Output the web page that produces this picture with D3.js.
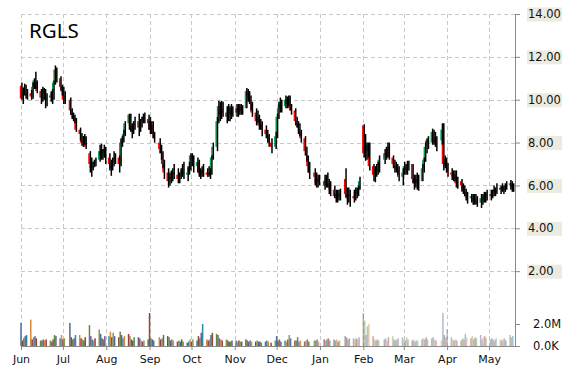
<!DOCTYPE html>
<html><head><meta charset="utf-8">
<script src="https://cdn.jsdelivr.net/npm/d3@7"></script>
<style>body{margin:0;background:#fff}svg{display:block}</style>
</head><body><svg id="c" width="570" height="370"></svg>
<script>
const ticker = "RGLS";
const firstDay = "2015-06-01", lastDay = "2016-05-18";
const holidays = ["2015-07-03","2015-09-07","2015-11-26","2015-12-25","2016-01-01","2016-01-18","2016-02-15","2016-03-25"];

const open = [
10.65,10.1,10.4,10.6,10.2,10.3,10.15,10.6,10.9,10.8,10.4,10.1,10.3,10.5,10.0,10.2,10.1,10.3,10.8,11.4,11.0,10.6,
10.5,10.0,10.0,9.5,9.3,9.2,9.1,8.6,8.4,8.0,8.1,8.3,7.5,7.0,6.8,7.0,7.1,7.2,7.6,7.4,7.5,7.7,
7.3,7.0,6.8,7.1,7.2,7.3,7.0,8.0,8.1,8.4,8.9,9.3,8.8,8.5,8.8,9.0,8.7,8.9,9.0,9.2,9.1,
9.0,8.6,8.8,8.4,8.0,7.7,7.5,7.0,6.6,6.2,6.4,6.3,6.6,6.5,6.3,6.4,6.6,6.7,6.5,6.6,6.8,
7.4,7.2,6.9,7.1,6.6,6.5,6.7,6.6,6.5,6.6,6.5,7.3,7.8,9.0,9.7,9.3,9.6,9.4,9.2,9.5,9.3,9.6,
9.4,9.6,9.4,9.7,9.5,9.6,10.4,10.2,10.0,9.8,9.4,9.0,9.2,8.8,8.9,8.6,8.4,8.3,8.0,7.8,
8.3,9.2,9.6,9.8,9.7,10.0,9.8,10.1,9.6,9.5,9.0,8.9,8.7,8.5,8.2,7.6,7.4,6.9,6.6,6.4,6.1,6.3,
6.2,6.0,6.3,6.1,5.9,5.8,5.5,5.6,5.4,5.6,6.3,5.6,5.4,5.6,5.5,5.4,5.7,5.6,5.8,
8.8,7.5,7.8,7.6,7.9,6.9,6.5,6.6,6.8,6.7,7.2,7.5,7.4,7.8,7.3,7.0,6.9,6.8,6.7,6.4,
6.6,6.9,6.7,6.9,7.0,6.3,6.1,6.3,6.1,6.2,6.8,7.2,7.8,8.1,8.0,8.5,8.2,8.0,8.1,8.6,7.0,7.2,
6.9,6.6,6.5,6.4,6.5,6.1,6.2,6.0,5.8,5.7,5.5,5.4,5.5,5.3,5.4,5.3,5.2,5.4,5.3,5.5,5.4,
5.6,5.5,5.6,5.8,5.7,5.9,5.8,5.9,5.8,5.9,6.0,6.1,5.9];
const high = [
10.8,10.55,10.75,10.7,10.5,10.45,10.8,11.0,11.3,10.9,10.5,10.6,10.55,10.5,10.3,10.4,10.5,10.9,11.6,11.5,11.1,10.7,
10.6,10.4,10.1,9.6,9.4,9.3,9.15,8.7,8.45,8.3,8.4,8.3,7.6,7.3,7.1,7.2,7.3,7.9,7.95,7.7,7.9,7.8,
7.5,7.2,7.3,7.6,7.5,7.4,8.2,8.3,8.6,9.0,9.35,9.35,8.9,9.0,9.2,9.35,9.1,9.2,9.35,9.4,9.3,
9.2,9.0,9.0,8.5,8.2,7.9,7.6,7.2,6.8,6.6,6.7,6.8,7.0,6.8,6.6,6.8,7.0,7.1,6.9,7.1,7.5,
7.5,7.4,7.3,7.2,6.8,6.9,7.0,6.8,6.9,6.8,7.4,8.0,9.2,9.95,9.9,9.95,9.9,9.7,9.8,9.7,9.8,9.7,
9.8,9.8,9.8,9.8,9.75,10.55,10.5,10.4,10.2,9.9,9.6,9.5,9.3,9.1,9.0,8.8,8.6,8.4,8.2,8.5,
9.35,9.9,10.1,10.0,10.2,10.15,10.2,10.2,9.8,9.6,9.2,9.0,8.9,8.6,8.3,7.8,7.4,7.1,6.8,6.6,6.5,6.5,
6.5,6.5,6.6,6.3,6.2,6.0,5.8,5.8,5.8,5.85,6.8,5.9,5.9,5.8,5.8,5.9,5.9,6.0,6.4,
8.85,8.4,8.0,8.0,8.0,7.0,6.9,7.0,7.1,7.4,7.7,7.8,8.0,8.0,7.4,7.2,7.1,7.0,6.9,6.8,
7.1,7.0,7.15,7.15,7.0,6.5,6.5,6.6,6.5,7.0,7.3,8.0,8.2,8.3,8.65,8.6,8.5,8.3,8.9,8.9,7.4,7.3,
7.05,6.8,6.7,6.7,6.7,6.4,6.3,6.1,6.0,5.85,5.7,5.6,5.6,5.6,5.6,5.5,5.6,5.6,5.7,5.7,5.8,
5.8,5.8,6.0,5.9,6.1,6.0,6.1,6.0,6.1,6.2,6.25,6.2,6.1];
const low = [
10.0,9.8,10.2,10.05,10.0,10.0,10.05,10.5,10.5,10.3,9.8,9.9,10.0,9.6,9.7,9.9,9.8,10.0,10.7,10.8,10.4,10.2,
9.8,9.8,9.3,9.1,9.0,8.9,8.5,8.1,7.85,7.8,7.9,7.7,6.6,6.4,6.7,6.85,6.9,7.1,7.2,7.2,7.3,7.0,
6.7,6.45,6.7,6.9,7.0,6.6,6.9,7.8,8.0,8.3,8.6,8.5,8.2,8.4,8.6,8.3,8.5,8.7,8.9,8.9,8.6,
8.4,8.4,8.2,8.0,7.5,7.2,6.8,6.3,5.9,6.0,6.1,6.2,6.3,6.1,6.1,6.3,6.4,6.3,6.2,6.5,6.7,
6.9,6.6,6.6,6.4,6.3,6.4,6.4,6.4,6.4,6.3,6.5,7.2,7.6,8.9,9.0,9.1,9.2,8.9,9.0,9.0,9.1,9.2,
9.2,9.2,9.3,9.3,9.3,9.6,9.9,9.8,9.5,9.2,8.8,8.9,8.6,8.6,8.3,8.2,8.0,7.8,7.5,7.7,
8.2,9.1,9.4,9.4,9.6,9.6,9.7,9.5,9.3,8.8,8.7,8.4,8.3,8.0,7.4,7.1,6.6,6.3,6.0,5.9,5.9,6.0,
5.8,5.9,5.9,5.6,5.5,5.4,5.2,5.2,5.3,5.3,5.45,5.1,5.2,5.0,5.2,5.3,5.4,5.5,5.8,
7.3,7.15,7.2,7.3,6.7,6.2,6.15,6.4,6.5,6.6,7.0,7.2,7.3,7.2,6.8,6.6,6.6,6.5,6.2,6.0,
6.5,6.5,6.5,6.7,6.1,5.8,5.9,5.8,5.75,6.2,6.6,7.1,7.5,7.7,7.9,7.9,7.8,7.6,7.9,6.7,6.8,6.6,
6.4,6.25,6.2,6.2,5.9,5.85,5.7,5.6,5.5,5.3,5.15,5.2,5.1,5.1,5.1,5.0,4.95,5.1,5.2,5.2,5.3,
5.3,5.4,5.5,5.5,5.6,5.6,5.7,5.6,5.7,5.8,5.8,5.7,5.7];
const close = [
10.05,10.4,10.6,10.2,10.3,10.15,10.6,10.9,10.8,10.4,10.1,10.3,10.5,10.0,10.2,10.1,10.3,10.8,11.4,11.0,10.6,10.5,
10.0,10.2,9.5,9.3,9.2,9.1,8.6,8.4,8.0,8.1,8.3,7.8,7.0,6.8,7.0,7.1,7.2,7.6,7.4,7.5,7.7,7.3,
7.0,6.8,7.1,7.2,7.3,7.0,8.0,8.1,8.4,8.9,9.3,8.8,8.5,8.8,9.0,8.7,8.9,9.0,9.2,9.1,8.9,
8.6,8.8,8.4,8.2,7.7,7.5,7.0,6.6,6.2,6.4,6.3,6.6,6.5,6.3,6.4,6.6,6.7,6.5,6.6,6.8,7.4,
7.2,6.9,7.1,6.6,6.5,6.7,6.6,6.5,6.6,6.5,7.3,7.8,9.0,9.7,9.3,9.6,9.4,9.2,9.5,9.3,9.6,9.4,
9.6,9.4,9.7,9.5,9.6,10.4,10.2,10.0,9.8,9.4,9.0,9.2,8.8,8.9,8.6,8.4,8.3,8.0,7.8,8.3,
9.2,9.6,9.8,9.7,10.0,9.8,10.1,9.6,9.5,9.0,8.9,8.7,8.5,8.2,7.6,7.4,6.9,6.6,6.4,6.1,6.3,6.2,
6.0,6.3,6.1,5.9,5.8,5.5,5.6,5.4,5.6,5.5,5.6,5.4,5.6,5.5,5.4,5.7,5.6,5.8,6.2,
7.5,7.8,7.6,7.9,6.9,6.5,6.6,6.8,6.7,7.2,7.5,7.4,7.8,7.3,7.0,6.9,6.8,6.7,6.4,6.6,
6.9,6.7,6.9,7.0,6.3,6.1,6.3,6.1,6.2,6.8,7.2,7.8,8.1,8.0,8.5,8.2,8.0,8.1,8.6,7.0,7.2,6.9,
6.6,6.5,6.4,6.5,6.1,6.2,6.0,5.8,5.7,5.5,5.4,5.5,5.3,5.4,5.3,5.2,5.4,5.3,5.5,5.4,5.6,
5.5,5.6,5.8,5.7,5.9,5.8,5.9,5.8,5.9,6.0,6.1,5.9,6.0];
// volume in millions of shares
const volume = [
2.1,0.5,0.7,0.9,1.0,2.4,0.6,0.8,0.9,0.7,0.5,0.5,0.6,0.5,0.6,0.5,0.4,0.6,1.0,0.9,0.7,1.0,
0.6,0.7,2.1,0.8,0.6,0.7,1.0,1.0,0.7,0.6,0.5,0.8,1.9,0.9,0.6,0.5,0.7,1.5,1.1,0.7,0.6,0.9,
0.9,1.3,0.8,1.2,0.9,0.8,1.3,1.0,0.7,0.9,1.1,0.9,0.6,0.5,0.8,0.8,0.7,0.5,0.4,0.5,0.6,
3.0,0.7,0.6,0.5,0.8,0.6,0.7,1.0,0.9,0.8,0.5,0.6,0.5,0.4,0.5,0.4,0.6,0.4,0.3,0.4,0.6,
0.4,0.6,0.5,0.9,0.7,1.2,2.0,0.6,0.5,0.6,1.0,1.2,1.1,1.0,0.7,0.6,0.5,0.6,0.5,0.4,0.4,0.5,
0.5,0.4,0.5,0.4,0.4,0.6,0.5,0.4,0.5,0.4,0.4,0.5,0.4,0.4,0.3,0.4,0.5,0.4,0.3,0.5,
0.9,0.5,0.6,0.4,0.5,0.4,0.6,1.0,0.7,0.5,0.5,0.8,0.4,0.5,0.4,0.5,0.6,0.4,0.5,0.5,0.6,0.4,
0.6,0.5,0.6,0.7,0.5,0.6,0.5,0.6,0.4,0.5,0.9,0.8,0.6,0.7,0.7,0.6,0.7,0.6,0.8,
3.0,2.3,1.0,1.8,2.0,0.9,0.6,0.5,0.6,0.5,0.6,0.7,0.5,0.8,0.9,0.6,0.5,0.6,0.7,0.8,
0.6,0.5,0.8,0.6,0.5,0.6,0.4,0.5,0.5,0.6,0.7,0.6,0.8,0.6,0.7,0.8,0.6,0.5,0.5,3.0,1.0,0.8,
1.5,0.8,0.6,0.5,0.6,0.5,0.5,0.7,0.6,1.1,0.8,0.7,0.9,0.6,0.8,0.7,1.0,0.6,0.8,0.9,0.7,
0.6,0.7,0.6,0.5,0.7,0.6,0.5,0.6,0.7,0.5,1.0,0.8,0.9];

const priceTicks = [2,4,6,8,10,12,14];
const volumeTicks = [0,2];
const volumeTickLabels = ["0.0K","2.0M"];
const monthLabels = ["Jun","Jul","Aug","Sep","Oct","Nov","Dec","Jan","Feb","Mar","Apr","May"];

const fmtDay = d3.timeFormat("%Y-%m-%d");
const parse = d3.timeParse("%Y-%m-%d");
const hol = new Set(holidays);
const days = d3.timeDays(parse(firstDay), d3.timeDay.offset(parse(lastDay), 1))
  .filter(d => d.getDay() !== 0 && d.getDay() !== 6 && !hol.has(fmtDay(d)));
const data = days.map((d, i) => ({date: d, o: open[i], h: high[i], l: low[i], c: close[i], v: volume[i]}))
  .filter(d => d.o !== undefined);

const svg = d3.select("#c");
const L = 21, R = 515, T = 14, B = 346;
const x = d3.scaleTime().domain([new Date(2015,5,1), new Date(2016,4,19,14)]).range([L, R]);
const y = d3.scaleLinear().domain([0, 14]).range([314, T]);
const yv = d3.scaleLinear().domain([0, 2]).range([B, 324]);
const months = d3.timeMonth.range(new Date(2015,5,1), new Date(2016,4,19));

// grid
const grid = svg.append("g").attr("stroke", "#c8c8c8").attr("stroke-dasharray", "4,3").attr("shape-rendering", "crispEdges");
grid.selectAll("line.h").data(priceTicks).join("line")
  .attr("x1", L).attr("x2", R).attr("y1", d => Math.round(y(d)) + 0.5).attr("y2", d => Math.round(y(d)) + 0.5);
grid.selectAll("line.v").data(months).join("line")
  .attr("x1", d => Math.round(x(d)) + 0.5).attr("x2", d => Math.round(x(d)) + 0.5).attr("y1", T).attr("y2", B);

// volume
const palette = ["#4a6c9e","#8e4a30","#5e8c3c","#6e5a94","#2d88a6","#d58a3e","#a03a3a","#8a9a4a"];
const fade = d3.scaleLinear().domain([new Date(2015,11,1), new Date(2016,1,1)]).range([1, 0.45]).clamp(true);
svg.append("g").selectAll("rect").data(data).join("rect")
  .attr("x", d => x(d.date) - 0.75).attr("width", 1.5)
  .attr("y", d => yv(d.v)).attr("height", d => B - yv(d.v))
  .attr("fill", (d, i) => palette[i % palette.length])
  .attr("fill-opacity", d => fade(d.date));

// candles: coloured body on the left, black high-low bar on the right
const cg = svg.append("g");
cg.selectAll("rect.body").data(data).join("rect").attr("class", "body")
  .attr("x", d => x(d.date) - 1.2).attr("width", 1.5)
  .attr("y", d => y(Math.max(d.o, d.c)))
  .attr("height", d => Math.max(1, Math.abs(y(d.o) - y(d.c))))
  .attr("fill", d => d.c >= d.o ? "#00a651" : "#ff0000");
cg.selectAll("line").data(data).join("line")
  .attr("x1", d => x(d.date) + 0.9).attr("x2", d => x(d.date) + 0.9)
  .attr("y1", d => y(d.h)).attr("y2", d => y(d.l))
  .attr("stroke", "#000").attr("stroke-width", 1.5);

// right axis
const axisColor = "#8a8a8a";
svg.append("line").attr("x1", R + 0.5).attr("x2", R + 0.5).attr("y1", T).attr("y2", B)
  .attr("stroke", axisColor);
const ay = svg.append("g").attr("transform", `translate(${R},0)`)
  .call(d3.axisRight(y).tickValues(priceTicks).tickSize(5).tickPadding(13).tickFormat(d3.format(".2f")));
ay.select(".domain").remove();
ay.selectAll(".tick line").attr("stroke", axisColor);
ay.selectAll(".tick").insert("rect", "text").attr("x", 12).attr("y", -7).attr("width", 35).attr("height", 14).attr("fill", "#ecebdf");
ay.selectAll(".tick text").attr("x", 13).attr("text-anchor", "start")
  .attr("font-family", "DejaVu Sans").attr("font-size", 11.5).attr("fill", "#111");

const av = svg.append("g").attr("transform", `translate(${R},0)`)
  .call(d3.axisRight(yv).tickValues(volumeTicks).tickSize(5).tickPadding(13).tickFormat((d, i) => volumeTickLabels[i]));
av.select(".domain").remove();
av.selectAll(".tick line").attr("stroke", axisColor);
av.selectAll(".tick text").attr("font-family", "DejaVu Sans").attr("font-size", 11.5).attr("fill", "#111");

// bottom axis
svg.append("line").attr("x1", L).attr("x2", R).attr("y1", B + 0.5).attr("y2", B + 0.5).attr("stroke", axisColor);
const ax = svg.append("g").attr("transform", `translate(0,${B})`)
  .call(d3.axisBottom(x).tickValues(months).tickSize(4).tickPadding(5).tickFormat((d, i) => monthLabels[i]));
ax.select(".domain").remove();
ax.selectAll(".tick line").attr("stroke", axisColor);
ax.selectAll(".tick text").attr("font-family", "DejaVu Sans").attr("font-size", 11).attr("fill", "#111");

// title
svg.append("text").attr("x", 29).attr("y", 38).text(ticker)
  .attr("font-family", "Noto Sans").attr("font-size", 20.5).attr("fill", "#000");
</script></body></html>
